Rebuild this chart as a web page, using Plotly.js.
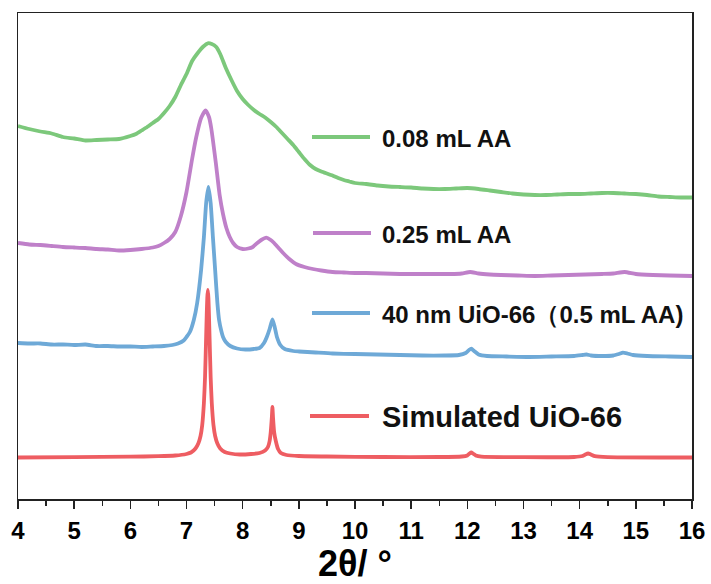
<!DOCTYPE html>
<html>
<head>
<meta charset="utf-8">
<script src="https://cdn.plot.ly/plotly-3.0.1.min.js"></script>
<style>
  html, body { margin: 0; padding: 0; background: #fff; }
  #chart { width: 711px; height: 584px; }
</style>
</head>
<body>
<div id="chart"></div>
<script>
// XRD patterns of UiO-66 samples (offset intensities, a.u.)

const seriesNames = ["0.08 mL AA", "0.25 mL AA", "40 nm UiO-66（0.5 mL AA)", "Simulated UiO-66"];
const seriesColors = ["#7cc87b", "#bf80c9", "#6ea9d7", "#ee5d62"];

// 0.08 mL AA
const xGreen = [4.0, 4.2, 4.4, 4.6, 4.8, 5.0, 5.2, 5.4, 5.6, 5.8, 6.0, 6.1, 6.2, 6.3, 6.4, 6.5, 6.6, 6.7, 6.8, 6.9,
  7.0, 7.1, 7.2, 7.3, 7.38, 7.45, 7.53, 7.6, 7.7, 7.8, 7.9, 8.0, 8.1, 8.2, 8.3, 8.4, 8.5, 8.6, 8.7, 8.8,
  8.9, 9.0, 9.1, 9.2, 9.3, 9.4, 9.5, 9.6, 9.7, 9.8, 9.9, 10.0, 10.2, 10.4, 10.6, 10.8, 11.0, 11.2, 11.4, 11.6,
  11.8, 12.0, 12.2, 12.4, 12.6, 12.8, 13.0, 13.2, 13.4, 13.6, 13.8, 14.0, 14.2, 14.4, 14.6, 14.8, 15.0, 15.2, 15.4, 15.6,
  15.8, 16.0];
const yGreen = [373, 370, 367.5, 365.5, 362, 360.5, 358.5, 359, 359.5, 360, 363, 365, 368.5, 372, 376, 380, 386, 393, 402, 414,
  425, 438, 446, 452.5, 455.7, 455, 452, 445, 431, 419, 408, 400, 394, 389, 385, 381.5, 377, 372, 366, 360,
  354, 347, 340, 334, 330, 327.5, 325.5, 323.5, 321, 319, 317.5, 316, 315, 313.5, 312.5, 312, 311.5, 310.5, 310, 310,
  310.5, 311, 310, 308.5, 307, 305.5, 304.5, 304, 304, 304.5, 305, 305, 305.5, 306, 306, 305.5, 305, 304, 302.5, 302,
  301.5, 301.5];

// 0.25 mL AA
const xPurple = [4.0, 4.2, 4.4, 4.6, 4.8, 5.0, 5.2, 5.4, 5.6, 5.8, 6.0, 6.2, 6.4, 6.5, 6.6, 6.7, 6.8, 6.9, 7.0, 7.1,
  7.17, 7.26, 7.34, 7.4, 7.44, 7.52, 7.59, 7.65, 7.71, 7.77, 7.83, 7.9, 8.0, 8.1, 8.18, 8.26, 8.33, 8.42, 8.5, 8.56,
  8.64, 8.72, 8.83, 8.95, 9.1, 9.25, 9.4, 9.6, 9.8, 10.0, 10.2, 10.5, 10.8, 11.1, 11.4, 11.7, 11.9, 12.05, 12.2, 12.4,
  12.6, 12.9, 13.2, 13.5, 13.8, 14.1, 14.4, 14.6, 14.8, 15.0, 15.3, 15.6, 16.0];
const yPurple = [256, 254.5, 254, 253, 252, 251.5, 251, 250, 249.5, 248.5, 249, 250, 251.5, 253, 256, 260, 267, 283, 307, 340,
  361, 381, 388.7, 382, 371, 337, 304, 285, 271, 262, 256, 252, 250, 250.5, 252, 256, 259, 261.3, 259, 256,
  251, 246, 240, 235, 232, 230, 228.5, 227, 226.5, 226, 226, 225.5, 225, 225, 225, 225, 225.5, 227, 225.5, 224.5,
  224, 223.5, 223, 223.5, 224, 224.5, 225, 225.5, 227, 225, 224, 223.5, 223];

// 40 nm UiO-66 (0.5 mL AA)
const xBlue = [4.0, 4.2, 4.4, 4.6, 4.8, 5.0, 5.2, 5.4, 5.6, 5.8, 6.0, 6.2, 6.4, 6.6, 6.75, 6.85, 6.95, 7.0, 7.06, 7.13,
  7.19, 7.26, 7.31, 7.35, 7.39, 7.43, 7.47, 7.51, 7.55, 7.58, 7.62, 7.65, 7.7, 7.78, 7.9, 8.05, 8.2, 8.3, 8.38, 8.43,
  8.48, 8.53, 8.57, 8.61, 8.67, 8.75, 8.9, 9.0, 9.3, 9.6, 10.0, 10.4, 10.8, 11.2, 11.6, 11.85, 11.97, 12.03, 12.07, 12.12,
  12.2, 12.35, 12.7, 13.1, 13.5, 13.9, 14.05, 14.12, 14.2, 14.4, 14.6, 14.7, 14.77, 14.85, 14.95, 15.2, 15.6, 16.0];
const yBlue = [156, 155.5, 155.5, 154.5, 154.5, 154, 154.5, 153, 153, 152.5, 152.5, 152, 152.5, 153, 154, 155.5, 158.5, 162, 167, 179,
  196, 229, 262, 296, 312, 296, 262, 229, 196, 179, 168, 162, 157, 153, 150.5, 149.5, 150, 151, 156, 162,
  170, 179.5, 172, 162, 154, 150, 148, 147.5, 146.5, 145.5, 145, 144.5, 144, 143.5, 143.5, 144, 146, 149, 150.3, 148,
  144.5, 143, 142.5, 142, 142.5, 143, 144, 144.5, 143.5, 143, 143.5, 145, 146.3, 145.5, 144, 143, 142.5, 142];

// Simulated UiO-66
const xRed = [4.0, 5.0, 6.0, 6.5, 6.8, 7.0, 7.08, 7.16, 7.21, 7.25, 7.28, 7.31, 7.33, 7.35, 7.36, 7.37, 7.38, 7.39, 7.40, 7.41,
  7.43, 7.45, 7.48, 7.51, 7.55, 7.6, 7.68, 7.78, 7.95, 8.15, 8.3, 8.4, 8.45, 8.48, 8.5, 8.52, 8.53, 8.54, 8.56, 8.59,
  8.63, 8.68, 8.78, 9.0, 9.5, 10.5, 11.5, 11.9, 12.0, 12.04, 12.07, 12.1, 12.15, 12.25, 13.0, 13.9, 14.05, 14.1, 14.15, 14.2,
  14.27, 14.5, 15.5, 16.0];
const yRed = [41.5, 41.8, 42.3, 42.8, 43.5, 45, 46.5, 50.5, 55.5, 63, 74, 96, 122, 163, 184, 201, 209, 201, 184, 163,
  122, 96, 74, 63, 55.5, 50.5, 47, 45.5, 44.5, 45, 46, 48.5, 52, 58, 67, 82, 92, 82, 67, 58,
  50, 46, 44, 43, 42.5, 42, 42, 42.5, 43.5, 45.5, 46.5, 45.5, 43.5, 42.3, 41.8, 42, 43, 44.5, 45.5, 44.5,
  42.8, 41.8, 41.5, 41.5];

const xTicks = [4, 5, 6, 7, 8, 9, 10, 11, 12, 13, 14, 15, 16];

const FONT = "Liberation Sans, Arial, Helvetica, sans-serif";

const xs = [xGreen, xPurple, xBlue, xRed];
const ys = [yGreen, yPurple, yBlue, yRed];

const traces = xs.map((x, i) => ({
  type: "scatter",
  mode: "lines",
  x: x,
  y: ys[i],
  name: seriesNames[i],
  line: { color: seriesColors[i], width: 3.8, shape: "spline", smoothing: 0.5 },
  hoverinfo: "skip",
  showlegend: false
}));

// Plot area in pixels: x 18..692, y 13..499
const W = 711, H = 584, L = 18, R = 19, T = 13, B = 85;
const pw = W - L - R, ph = H - T - B;
const px = v => (v - L) / pw;
const py = v => (H - B - v) / ph;

// key entries placed next to each curve
const keyRows = [
  { y: 137, x0: 312, x1: 370, size: 24 },
  { y: 233, x0: 313, x1: 371, size: 24 },
  { y: 313, x0: 312, x1: 370, size: 24 },
  { y: 416, x0: 310, x1: 369, size: 29 }
];

const shapes = keyRows.map((k, i) => ({
  type: "line", xref: "paper", yref: "paper",
  x0: px(k.x0), x1: px(k.x1), y0: py(k.y), y1: py(k.y),
  line: { color: seriesColors[i], width: 4 }
}));

const annotations = keyRows.map((k, i) => ({
  xref: "paper", yref: "paper",
  x: px(380), y: py(k.y + 1),
  xanchor: "left", yanchor: "middle",
  text: seriesNames[i],
  showarrow: false,
  font: { family: FONT, size: k.size, color: "#111", weight: "bold" }
}));

const layout = {
  width: W, height: H,
  margin: { l: L, r: R, t: T, b: B, pad: 0 },
  paper_bgcolor: "#fff",
  plot_bgcolor: "#fff",
  showlegend: false,
  xaxis: {
    range: [4, 16],
    tickvals: xTicks,
    ticktext: xTicks.map(String),
    ticks: "outside",
    ticklen: 8,
    tickwidth: 1.5,
    tickcolor: "#222",
    ticklabelstandoff: 2,
    minor: { dtick: 0.5, tick0: 4, ticks: "outside", ticklen: 5, tickwidth: 1.5, tickcolor: "#222" },
    showline: true, linecolor: "#222", linewidth: 1.5, mirror: true,
    showgrid: false, zeroline: false,
    tickfont: { family: FONT, size: 24, color: "#000", weight: "bold" },
    title: { text: "2θ/ °", font: { family: FONT, size: 36, color: "#000", weight: "bold" }, standoff: 9 }
  },
  yaxis: {
    range: [0, 486],
    showticklabels: false,
    ticks: "",
    showline: true, linecolor: "#222", linewidth: 1.5, mirror: true,
    showgrid: false, zeroline: false
  },
  shapes: shapes,
  annotations: annotations
};

Plotly.newPlot("chart", traces, layout, { staticPlot: true, displayModeBar: false });
</script>
</body>
</html>
